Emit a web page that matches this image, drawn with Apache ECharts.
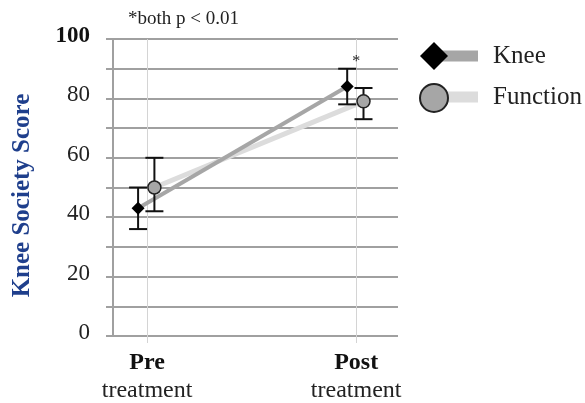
<!DOCTYPE html>
<html>
<head>
<meta charset="utf-8">
<script src="https://cdn.jsdelivr.net/npm/echarts@6/dist/echarts.min.js"></script>
<style>
  html, body { margin: 0; padding: 0; background: #fff; }
  #chart { width: 585px; height: 403px; }
</style>
</head>
<body>
<div id="chart"></div>
<script>
// x positions of the two time points and their labels
var xPos = [1, 2]
var xLabels = ['Pre', 'Post']
var xSubLabels = ['treatment', 'treatment']

// Knee Society Score, mean and error bar ends
var kneeMean = [43, 84]
var kneeLow = [36, 78]
var kneeHigh = [50, 90]
var funcMean = [50, 79]
var funcLow = [42, 73]
var funcHigh = [60, 83.5]

// significance marks shown above each time point
var sigMarks = ['', '*']

var FONT = '"Liberation Serif", "Times New Roman", serif'
var KNEE_SHIFT = -0.043 // small horizontal dodge so bars do not overlap
var FUNC_SHIFT = 0.035

function pts(means, shift) {
  return means.map(function(v, i) { return [xPos[i] + shift, v] })
}
function bars(low, high, shift, marks) {
  return low.map(function(v, i) { return [xPos[i] + shift, v, high[i], xPos[i], marks ? marks[i] : ''] })
}

function renderErrorBar(params, api) {
  var x = api.value(0)
  var top = api.coord([x, api.value(2)])
  var bot = api.coord([x, api.value(1)])
  var w = 9
  var style = { stroke: '#111', lineWidth: 2 }
  var children = [
    { type: 'line', shape: { x1: top[0], y1: top[1], x2: bot[0], y2: bot[1] }, style: style },
    { type: 'line', shape: { x1: top[0] - w, y1: top[1], x2: top[0] + w, y2: top[1] }, style: style },
    { type: 'line', shape: { x1: bot[0] - w, y1: bot[1], x2: bot[0] + w, y2: bot[1] }, style: style }
  ]
  var mark = api.value(4)
  if (mark) {
    var c = api.coord([api.value(3), api.value(2)])
    children.push({
      type: 'text',
      style: { text: mark, x: c[0], y: c[1] - 7, align: 'center', verticalAlign: 'middle', font: '16px ' + FONT, fill: '#222' }
    })
  }
  return { type: 'group', children: children }
}

var chart = echarts.init(document.getElementById('chart'))

chart.setOption({
  animation: false,
  title: {
    text: '*both p < 0.01',
    left: 128,
    top: 10,
    padding: 0,
    textStyle: { fontFamily: FONT, fontSize: 19, fontWeight: 'normal', color: '#222' }
  },
  legend: [{
    // symbols only
    left: 419,
    top: 42,
    padding: 0,
    orient: 'vertical',
    itemWidth: 28,
    itemHeight: 28,
    itemGap: 13,
    selectedMode: false,
    formatter: function() { return '' },
    z: 4,
    data: [
      { name: 'Knee', icon: 'diamond', itemStyle: { color: '#000', borderWidth: 0 } },
      { name: 'Function', icon: 'circle', itemStyle: { color: '#a6a6a6', borderColor: '#222', borderWidth: 2 } }
    ]
  }, {
    // line swatches + text
    left: 433,
    top: 42,
    padding: 0,
    orient: 'vertical',
    itemWidth: 45,
    itemHeight: 11,
    itemGap: 13,
    selectedMode: false,
    z: 3,
    textStyle: { fontFamily: FONT, fontSize: 25, color: '#222', lineHeight: 28, padding: [0, 0, 0, 10] },
    data: [
      { name: 'Knee', icon: 'rect', itemStyle: { color: '#a6a6a6', borderWidth: 0 } },
      { name: 'Function', icon: 'rect', itemStyle: { color: '#dcdcdc', borderWidth: 0 } }
    ]
  }],
  grid: { left: 113, right: 187, top: 39, bottom: 66 },
  xAxis: {
    type: 'value',
    min: 0.837,
    max: 2.2,
    axisLine: { show: false },
    axisTick: { show: true, customValues: xPos, length: 7, lineStyle: { color: '#d4d4d4', width: 1 } },
    splitLine: { show: true, lineStyle: { color: '#d4d4d4', width: 1 } },
    axisLabel: {
      customValues: xPos,
      margin: 13,
      formatter: function(v) {
        var i = xPos.indexOf(v)
        return '{a|' + xLabels[i] + '}\n{b|' + xSubLabels[i] + '}'
      },
      rich: {
        a: { fontFamily: FONT, fontSize: 24, fontWeight: 'bold', color: '#111', lineHeight: 28 },
        b: { fontFamily: FONT, fontSize: 24, color: '#222', lineHeight: 28 }
      }
    }
  },
  yAxis: {
    type: 'value',
    min: 0,
    max: 100,
    interval: 10,
    name: 'Knee Society Score',
    nameLocation: 'middle',
    nameGap: 78,
    nameTextStyle: { fontFamily: FONT, fontSize: 25, fontWeight: 'bold', color: '#1f3f8c', padding: [0, 16, 0, 0] },
    axisLine: { show: true, lineStyle: { color: '#a0a0a0', width: 2 } },
    axisTick: { show: true, length: 7, lineStyle: { color: '#a0a0a0', width: 2 } },
    splitLine: { show: true, lineStyle: { color: '#a0a0a0', width: 2 } },
    axisLabel: {
      margin: 23,
      fontFamily: FONT,
      fontSize: 23,
      color: '#222',
      padding: [0, 0, 6, 0],
      formatter: function(v) {
        if (v === 100) return '{b|100}'
        return v % 20 === 0 ? String(v) : ''
      },
      rich: { b: { fontFamily: FONT, fontSize: 23, fontWeight: 'bold', color: '#111' } }
    }
  },
  series: [{
    name: 'Function',
    type: 'line',
    z: 1,
    symbol: 'none',
    silent: true,
    lineStyle: { color: '#dcdcdc', width: 5 },
    data: pts(funcMean, FUNC_SHIFT)
  }, {
    name: 'Knee',
    type: 'line',
    z: 1,
    symbol: 'none',
    silent: true,
    lineStyle: { color: '#a6a6a6', width: 4 },
    data: pts(kneeMean, KNEE_SHIFT)
  }, {
    name: 'Knee',
    type: 'custom',
    z: 2,
    silent: true,
    renderItem: renderErrorBar,
    encode: { x: 0, y: [1, 2] },
    data: bars(kneeLow, kneeHigh, KNEE_SHIFT, sigMarks)
  }, {
    name: 'Function',
    type: 'custom',
    z: 2,
    silent: true,
    renderItem: renderErrorBar,
    encode: { x: 0, y: [1, 2] },
    data: bars(funcLow, funcHigh, FUNC_SHIFT)
  }, {
    name: 'Knee',
    type: 'scatter',
    z: 3,
    silent: true,
    symbol: 'diamond',
    symbolSize: 13,
    itemStyle: { color: '#000', opacity: 1 },
    data: pts(kneeMean, KNEE_SHIFT)
  }, {
    name: 'Function',
    type: 'scatter',
    z: 3,
    silent: true,
    symbol: 'circle',
    symbolSize: 13,
    itemStyle: { color: '#a6a6a6', borderColor: '#222', borderWidth: 1.5, opacity: 1 },
    data: pts(funcMean, FUNC_SHIFT)
  }]
})
</script>
</body>
</html>
